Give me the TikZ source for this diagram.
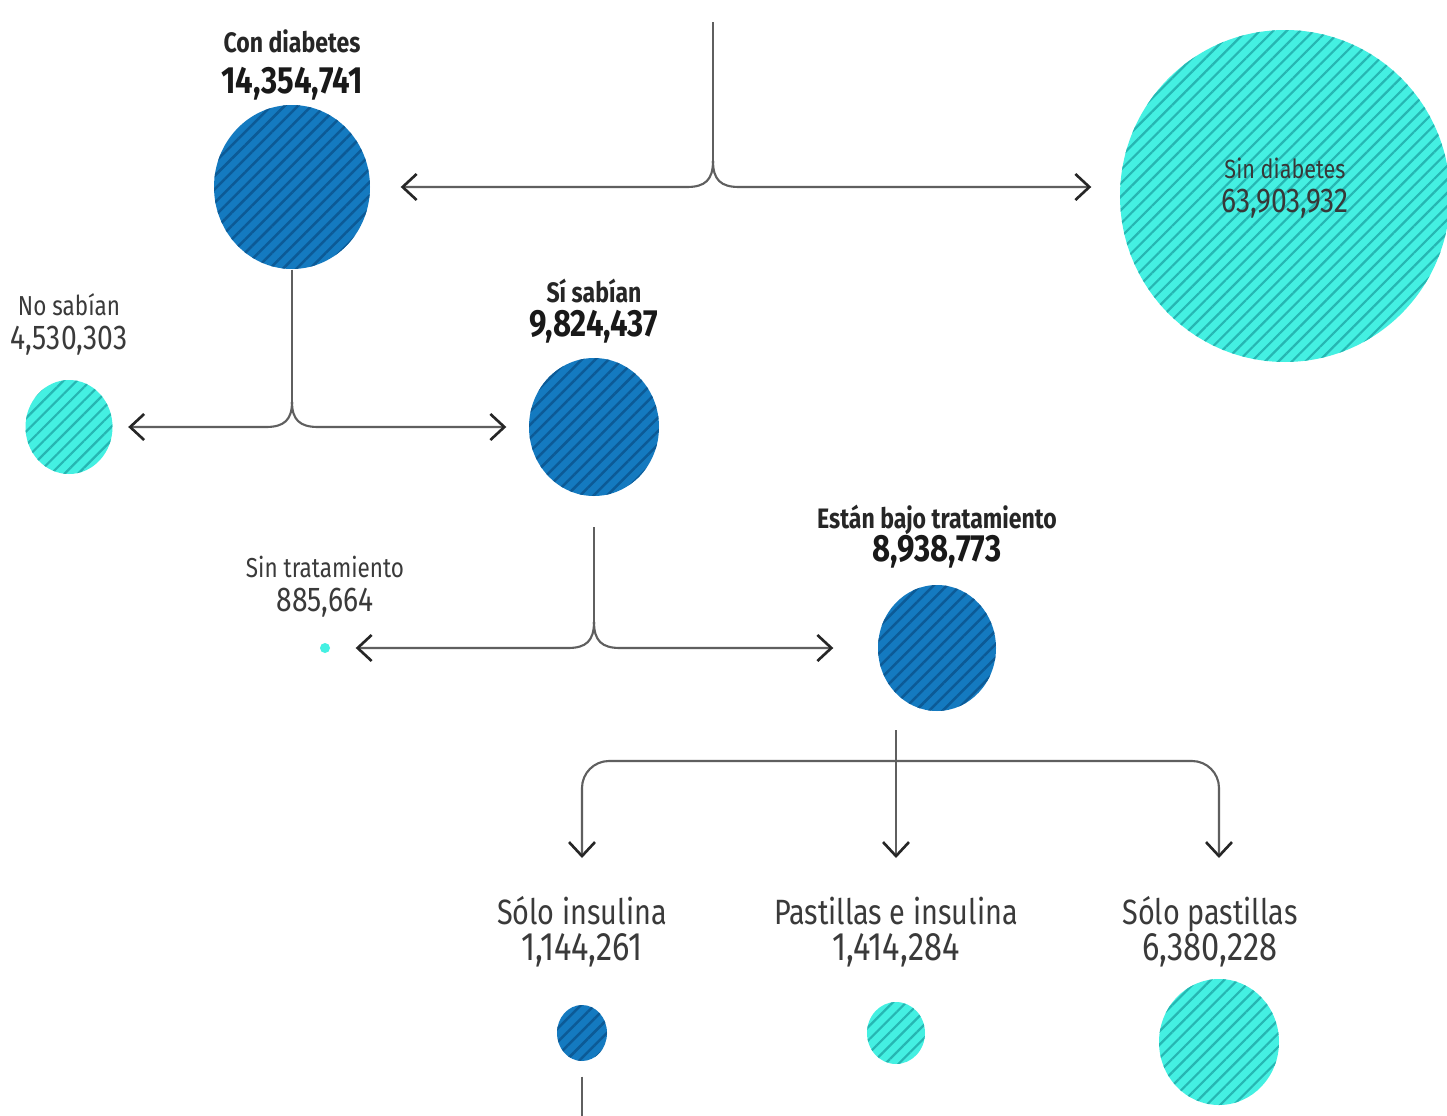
\documentclass[tikz,border=0pt]{standalone}
\usepackage{fontspec}
\setmainfont{Fira Sans}[FakeStretch=0.82]
\usetikzlibrary{shapes.geometric,patterns.meta,arrows.meta}

\definecolor{dblue}{RGB}{20,122,192}
\definecolor{dstripe}{RGB}{12,90,150}
\definecolor{lcyan}{RGB}{68,240,226}
\definecolor{cstripe}{RGB}{38,182,178}
\definecolor{linegray}{RGB}{95,95,95}
\definecolor{txtgray}{RGB}{58,58,58}

\tikzset{
  blob/.style={ellipse,inner sep=0pt,draw=none},
  darkblob/.style={blob,fill=dblue,
    postaction={pattern={Lines[angle=45,distance=0.95mm,line width=0.25mm]},pattern color=dstripe}},
  lightblob/.style={blob,fill=lcyan,
    postaction={pattern={Lines[angle=45,distance=0.95mm,line width=0.22mm]},pattern color=cstripe}},
  conn/.style={draw=linegray,line width=0.6pt},
  arr/.style={conn,-{Straight Barb[length=1.4mm,width=2.6mm,line width=0.75pt,color=black!85]}},
  txt/.style={inner sep=0pt,anchor=base},
  headb/.style={txt,font=\fontsize{8}{9}\selectfont\bfseries,text=black!85},
  numb/.style={txt,font=\fontsize{10.8}{12}\selectfont\bfseries,text=black!90},
  headr/.style={txt,font=\fontsize{7.8}{9}\selectfont,text=txtgray},
  numr/.style={txt,font=\fontsize{9.8}{11}\selectfont,text=txtgray},
  bighead/.style={txt,font=\fontsize{10}{12}\selectfont,text=txtgray},
  bignum/.style={txt,font=\fontsize{11.3}{12}\selectfont,text=txtgray},
}

\begin{document}
\begin{tikzpicture}[x=0.1mm,y=-0.1mm]
\useasboundingbox[fill=white] (0,0) rectangle (1447,1116);

% circles
\node[darkblob,minimum width=15.6mm,minimum height=16.4mm] (con) at (292,187) {};
\node[lightblob,minimum width=33mm,minimum height=33.2mm] (sin) at (1285,196) {};
\node[lightblob,minimum width=8.7mm,minimum height=9.4mm] (nosab) at (69,427) {};
\node[darkblob,minimum width=13mm,minimum height=13.8mm] (sisab) at (594,427) {};
\node[blob,fill=lcyan,minimum width=1mm,minimum height=1mm] (sintrat) at (325,648) {};
\node[darkblob,minimum width=11.8mm,minimum height=12.6mm] (bajo) at (937,648) {};
\node[darkblob,minimum width=5mm,minimum height=5.6mm] (soloins) at (582,1033) {};
\node[lightblob,minimum width=5.8mm,minimum height=6.2mm] (pasins) at (896,1033) {};
\node[lightblob,minimum width=12mm,minimum height=12.6mm] (solopas) at (1219,1042) {};

% labels
\node[headb] (conL) at (292,52) {Con diabetes};
\node[numb] (conN) at (292,93) {14,354,741};
\node[headr,font=\fontsize{7.5}{9}\selectfont,text=black!78] (sinL) at (1285,178) {Sin diabetes};
\node[numr,text=black!78] (sinN) at (1285,212) {63,903,932};
\node[headr] (nosabL) at (69,315) {No sabían};
\node[numr] (nosabN) at (69,349) {4,530,303};
\node[headb] (sisabL) at (594,302) {Sí sabían};
\node[numb] (sisabN) at (594,336) {9,824,437};
\node[headr] (sintratL) at (325,577) {Sin tratamiento};
\node[numr] (sintratN) at (325,611) {885,664};
\node[headb] (bajoL) at (937,528) {Están bajo tratamiento};
\node[numb] (bajoN) at (937,561) {8,938,773};
\node[bighead] (soloinsL) at (582,924) {Sólo insulina};
\node[bignum] (soloinsN) at (582,960) {1,144,261};
\node[bighead] (pasinsL) at (896,924) {Pastillas e insulina};
\node[bignum] (pasinsN) at (896,960) {1,414,284};
\node[bighead] (solopasL) at (1210,924) {Sólo pastillas};
\node[bignum] (solopasN) at (1210,960) {6,380,228};

% first split
\coordinate (t1) at (713,22);
\coordinate (j1) at (713,161);
\draw[conn] (t1) -- (j1);
\draw[arr,shorten >=3mm] (j1) .. controls (713,180) and (705,187) .. (687,187) -- (con.east);
\draw[arr,shorten >=2.8mm] (j1) .. controls (713,180) and (721,187) .. (739,187) -- (con.east -| sin.west);

% second split
\coordinate (j2) at (292,402);
\draw[conn] (con.south) -- (j2);
\draw[arr,shorten >=1.5mm] (j2) .. controls (292,420) and (284,427) .. (266,427) -- (nosab.east);
\draw[arr,shorten >=2.2mm] (j2) .. controls (292,420) and (300,427) .. (318,427) -- (sisab.west);

% third split
\coordinate (t3) at (594,527);
\coordinate (j3) at (594,622);
\draw[conn] (t3) -- (j3);
\draw[arr,shorten >=2.5mm] (j3) .. controls (594,641) and (586,648) .. (568,648) -- (sintrat.east);
\draw[arr,shorten >=4.4mm] (j3) .. controls (594,641) and (602,648) .. (620,648) -- (bajo.west);

% treatment fork
\coordinate (t4) at (896,730);
\coordinate (j4) at (896,761);
\coordinate (tipL) at (582,858);
\coordinate (tipM) at (896,858);
\coordinate (tipR) at (1219,858);
\draw[arr] (t4) -- (tipM);
\draw[arr,rounded corners=2.7mm] (j4) -| (tipL);
\draw[arr,rounded corners=2.7mm] (j4) -| (tipR);

\coordinate (bot) at (582,1125);
\draw[conn,shorten <=1.5mm] (soloins.south) -- (bot);
\end{tikzpicture}
\end{document}
